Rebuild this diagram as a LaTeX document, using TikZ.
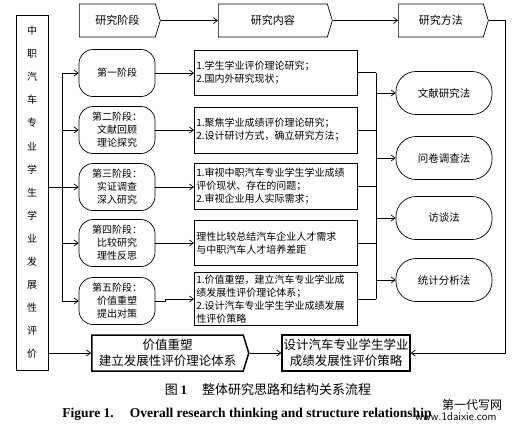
\documentclass[tikz,border=0pt]{standalone}
\usepackage{fontspec}
\setmainfont{Liberation Serif}
\newfontfamily\cjk{Noto Sans CJK SC}
\usetikzlibrary{arrows.meta, positioning, shapes.symbols}

\begin{document}
\begin{tikzpicture}[x=1pt, y=-1pt, line width=0.7pt,
    >={Straight Barb[length=4pt, width=6pt]},
    head/.style={draw, shape=signal, signal to=east, signal pointer angle=146,
                 minimum height=33pt, inner sep=0pt, anchor=west,
                 font=\cjk\fontsize{11}{13}\selectfont},
    stage/.style={draw, rounded corners=14pt, minimum width=76pt, minimum height=47pt,
                  align=center, inner sep=0pt, font=\cjk\fontsize{10}{13}\selectfont},
    content/.style={draw, text width=159pt, inner sep=2pt, align=left, anchor=west,
                    font=\cjk\fontsize{10}{13}\selectfont},
    method/.style={draw, rounded corners=20pt, minimum width=96pt, minimum height=43pt,
                   font=\cjk\fontsize{10.5}{13}\selectfont},
    result/.style={draw, line width=1.5pt, minimum height=36pt, align=center,
                   inner sep=0pt, font=\cjk\fontsize{12.5}{16}\selectfont},
]
    \useasboundingbox (0,0) rectangle (513,432);

    % Header row
    \node[head, minimum width=81pt] (h1) at (79, 20.5) {研究阶段};
    \node[head, minimum width=114pt] (h2) at (218, 20.5) {研究内容};
    \node[head, minimum width=90pt] (h3) at (398, 20.5) {研究方法};

    % Left title
    \node[draw, minimum width=32pt, minimum height=355pt, inner sep=0pt, align=center,
          font=\cjk\fontsize{10}{23.1}\selectfont] (side) at (32, 192.5)
          {中\\职\\汽\\车\\专\\业\\学\\生\\学\\业\\发\\展\\性\\评\\价};

    % Stages
    \node[stage] (s1) at (117, 73) {第一阶段};
    \node[stage] (s2) at (117, 130) {第二阶段：\\文献回顾\\理论探究};
    \node[stage] (s3) at (117, 187) {第三阶段：\\实证调查\\深入研究};
    \node[stage] (s4) at (117, 243) {第四阶段：\\比较研究\\理性反思};
    \node[stage] (s5) at (117, 301) {第五阶段：\\价值重塑\\提出对策};

    % Contents
    \node[content, minimum height=45pt] (c1) at (194, 72.5)
        {1.学生学业评价理论研究；\\2.国内外研究现状；};
    \node[content, minimum height=46pt] (c2) at (194, 130)
        {1.聚焦学业成绩评价理论研究；\\2.设计研讨方式，确立研究方法；};
    \node[content, minimum height=46pt] (c3) at (194, 186)
        {1.审视中职汽车专业学生学业成绩\\评价现状、存在的问题；\\2.审视企业用人实际需求；};
    \node[content, minimum height=45pt] (c4) at (194, 243)
        {理性比较总结汽车企业人才需求\\与中职汽车人才培养差距};
    \node[content, minimum height=52pt] (c5) at (194, 299)
        {1.价值重塑，建立汽车专业学业成\\绩发展性评价理论体系；\\2.设计汽车专业学生学业成绩发展\\性评价策略};

    % Methods
    \node[method] (m1) at (444, 93) {文献研究法};
    \node[method] (m2) at (444, 158) {问卷调查法};
    \node[method] (m3) at (444, 218) {访谈法};
    \node[method] (m4) at (444, 280) {统计分析法};

    % Results
    \node[result, shape=signal, signal to=east, signal pointer angle=146,
          minimum width=157pt, anchor=west] (b1) at (91, 353)
          {价值重塑\\建立发展性评价理论体系};
    \node[result, minimum width=128pt] (b2) at (346, 353)
          {设计汽车专业学生学业\\成绩发展性评价策略};

    % Bus lines
    \coordinate (bus) at (62, 0);
    \coordinate (bus2) at (376, 0);
    \coordinate (loop) at (505, 0);

    % Connectors
    \draw[->] (h1.east) -- (h2.west);
    \draw[->] (h2.east) -- (h3.west);
    \draw[->] (side.east |- s3) -- (s3.west);
    \draw (bus |- s1) -- (bus |- s5);
    \foreach \s in {s1, s2, s4, s5}
        \draw[->] (bus |- \s) -- (\s.west);
    \foreach \i in {1, 2, 3, 4}
        \draw[->] (s\i.east) -- (s\i.east -| c\i.west);
    \draw[->] (s5.east) -- ++(10,0) |- (c5.west);
    \foreach \i in {1, ..., 5}
        \draw (c\i.east) -- (bus2 |- c\i.east);
    \draw (bus2 |- c1.east) -- (bus2 |- c5.east);
    \foreach \i in {1, ..., 4}
        \draw[->] (bus2 |- m\i) -- (m\i.west);
    \draw[->] (side.east |- b1) -- (b1.west);
    \draw[->] (b1.east) -- (b2.west);
    \draw[->] (h3.east) -- (loop |- h3.east) |- (b2.east);

    % Captions
    \node[font=\cjk\fontsize{13}{15}\selectfont] (cap) at (268, 390)
        {图 {\rmfamily\bfseries 1}\hspace{15pt}整体研究思路和结构关系流程};
    \node[font=\bfseries\fontsize{13.5}{15}\selectfont, anchor=west, inner sep=0pt] (capen) at (62, 414)
        {Figure 1.\hspace{16pt}Overall research thinking and structure relationship};
    \node[font=\cjk\fontsize{12}{14}\selectfont, inner sep=0pt] (wm1) at (472, 405) {第一代写网};
    \node[font=\sffamily\fontsize{11.5}{13}\selectfont, inner sep=0pt] (wm2) at (456, 417) {www.1daixie.com};
\end{tikzpicture}
\end{document}
